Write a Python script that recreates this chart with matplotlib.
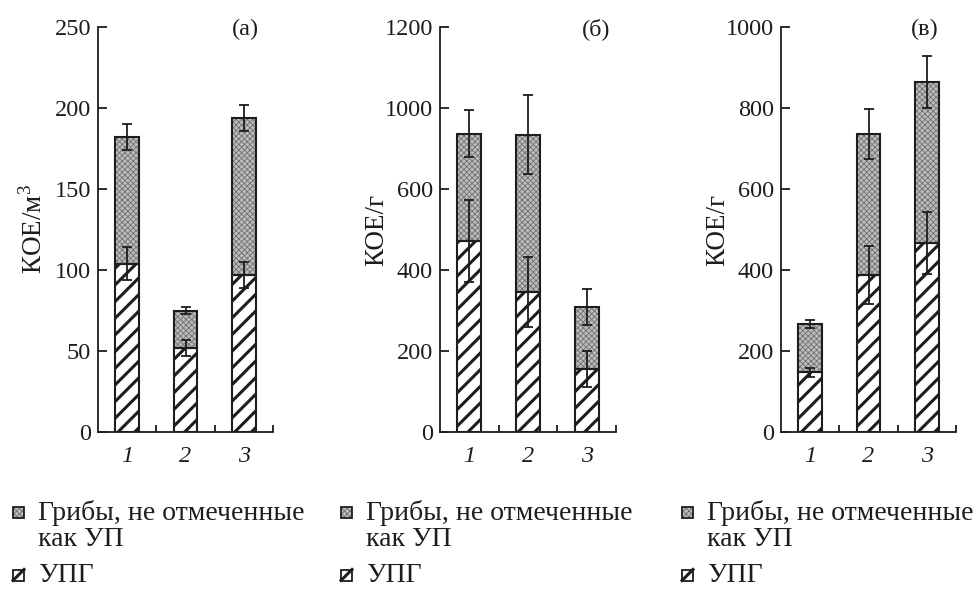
import numpy as np
import matplotlib
matplotlib.use('Agg')
import matplotlib.pyplot as plt
from matplotlib.patches import Rectangle
from matplotlib.lines import Line2D

plt.rcParams['font.family'] = ['Liberation Serif', 'DejaVu Serif']
plt.rcParams['mathtext.fontset'] = 'custom'
plt.rcParams['mathtext.rm'] = 'Liberation Serif'
plt.rcParams['hatch.linewidth'] = 2.0

INK = '#1e1c1d'

# данные
categories = ['1', '2', '3']

a_total = [182, 75, 194]
a_total_err = [8, 2, 8]
a_upg = [104, 52, 97]
a_upg_err = [10, 5, 8]

b_total = [737, 734, 309]
b_total_err = [58, 97, 45]
b_upg = [472, 345, 156]
b_upg_err = [102, 86, 45]

v_total = [266, 736, 864]
v_total_err = [10, 62, 65]
v_upg = [147, 388, 466]
v_upg_err = [10, 71, 77]

a_yticks = [0, 50, 100, 150, 200, 250]
b_yticks = [0, 200, 400, 600, 800, 1000]
b_yticklabels = ['0', '200', '400', '600', '1000', '1200']  # как напечатано
v_yticks = [0, 200, 400, 600, 800, 1000]

legend_other = 'Грибы, не отмеченные\nкак УП'
legend_upg = 'УПГ'

GRAY_FACE = '#bdbdbd'
GRAY_HATCH = '#707070'


def set_hlw(p, lw):
    if hasattr(p, 'set_hatch_linewidth'):
        p.set_hatch_linewidth(lw)


def panel(ax, total, total_err, upg, upg_err, yticks, yticklabels, ylabel, letter, letter_x):
    x = np.arange(1, len(categories) + 1)
    total = np.array(total)
    upg = np.array(upg)
    w = 0.41
    # нижняя часть - УПГ
    bars = ax.bar(x, upg, w, color='white', edgecolor=INK, hatch='//', linewidth=0, zorder=2)
    for p in bars:
        set_hlw(p, 2.2)
    # верхняя часть - прочие грибы
    bars = ax.bar(x, total - upg, w, bottom=upg, color=GRAY_FACE, edgecolor=GRAY_HATCH,
                  hatch='xxxxxx', linewidth=0, zorder=2)
    for p in bars:
        set_hlw(p, 0.6)
    # контуры
    ax.bar(x, upg, w, fill=False, edgecolor=INK, linewidth=1.5, zorder=3)
    ax.bar(x, total - upg, w, bottom=upg, fill=False, edgecolor=INK, linewidth=1.5, zorder=3)

    ax.errorbar(x, total, yerr=total_err, fmt='none', ecolor=INK, elinewidth=1.3,
                capsize=3.5, capthick=1.3, zorder=4)
    ax.errorbar(x, upg, yerr=upg_err, fmt='none', ecolor=INK, elinewidth=1.3,
                capsize=3.5, capthick=1.3, zorder=4)

    ax.set_xlim(0.5, 3.5)
    ax.set_ylim(0, yticks[-1])
    ax.spines['top'].set_visible(False)
    ax.spines['right'].set_visible(False)
    for side in ['left', 'bottom']:
        ax.spines[side].set_linewidth(1.3)
        ax.spines[side].set_color(INK)

    ax.set_yticks(yticks)
    ax.set_yticklabels(yticklabels)
    ax.tick_params(axis='y', direction='in', length=6.5, width=1.3, pad=5,
                   labelsize=17.5, colors=INK)
    ax.set_xticks(x)
    ax.set_xticklabels(categories, fontstyle='italic')
    ax.tick_params(axis='x', which='major', length=0, pad=10, labelsize=17.5, colors=INK)
    ax.set_xticks([1.5, 2.5, 3.5], minor=True)
    ax.tick_params(axis='x', which='minor', direction='in', length=5, width=1.3, color=INK)

    ax.set_ylabel(ylabel, fontsize=19.5, color=INK)
    ax.yaxis.set_label_coords(-0.29, 0.5)
    ax.text(letter_x, 0.995, letter, transform=ax.transAxes, ha='center', va='center',
            fontsize=17.5, color=INK)


def legend(fig, x_px):
    W, H = 975, 590
    s = 11
    # патч "прочие"
    y1 = 512
    r = Rectangle((x_px / W, (H - y1 - s / 2) / H), s / W, s / H, transform=fig.transFigure,
                  facecolor=GRAY_FACE, edgecolor=GRAY_HATCH, hatch='xxxxxx', linewidth=0)
    set_hlw(r, 0.6)
    fig.patches.append(r)
    fig.patches.append(Rectangle((x_px / W, (H - y1 - s / 2) / H), s / W, s / H,
                                 transform=fig.transFigure, fill=False, edgecolor=INK, linewidth=1.3))
    # патч УПГ
    y2 = 575
    fig.patches.append(Rectangle((x_px / W, (H - y2 - s / 2) / H), s / W, s / H,
                                 transform=fig.transFigure, facecolor='white', edgecolor=INK,
                                 linewidth=1.3))
    fig.lines.append(Line2D([x_px / W, (x_px + s) / W],
                            [(H - y2 - s / 2) / H, (H - y2 + s / 2) / H],
                            transform=fig.transFigure, color=INK, linewidth=2.2))
    tx = (x_px + 25) / W
    fig.text(tx, (H - 526) / H, legend_other, ha='left', va='center', fontsize=20,
             linespacing=1.1, color=INK)
    fig.text(tx, (H - y2) / H, legend_upg, ha='left', va='center', fontsize=20, color=INK)


fig = plt.figure(figsize=(9.75, 5.9), dpi=100)
bottom = 158 / 590
height = 405 / 590
ax1 = fig.add_axes([98 / 975, bottom, 175 / 975, height])
ax2 = fig.add_axes([440 / 975, bottom, 176 / 975, height])
ax3 = fig.add_axes([781 / 975, bottom, 175 / 975, height])

panel(ax1, a_total, a_total_err, a_upg, a_upg_err, a_yticks, [str(t) for t in a_yticks],
      'КОЕ/м$^3$', '(а)', 0.84)
panel(ax2, b_total, b_total_err, b_upg, b_upg_err, b_yticks, b_yticklabels,
      'КОЕ/г', '(б)', 0.886)
panel(ax3, v_total, v_total_err, v_upg, v_upg_err, v_yticks, [str(t) for t in v_yticks],
      'КОЕ/г', '(в)', 0.82)

legend(fig, 13)
legend(fig, 341)
legend(fig, 682)

fig.savefig('out.png', dpi=100)
